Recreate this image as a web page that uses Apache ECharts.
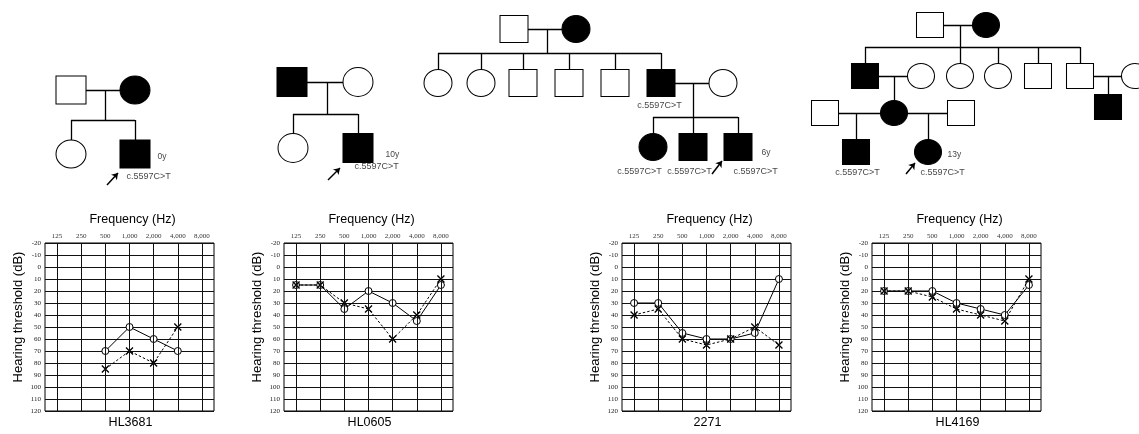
<!DOCTYPE html>
<html><head><meta charset="utf-8">
<script src="https://cdn.jsdelivr.net/npm/echarts@6/dist/echarts.min.js"></script>
<style>html,body{margin:0;padding:0;background:#fff}#c{width:1139px;height:434px}</style>
</head><body><div id="c"></div>
<script>
// ---------- audiogram data ----------
const freqLabels = ['125','250','500','1,000','2,000','4,000','8,000'];
const audiogramIds = ['HL3681','HL0605','2271','HL4169'];
const hl3681Right = [null,null,70,50,60,70,null];
const hl3681Left  = [null,null,85,70,80,50,null];
const hl0605Right = [15,15,35,20,30,45,15];
const hl0605Left  = [15,15,30,35,60,40,10];
const p2271Right  = [30,30,55,60,60,55,10];
const p2271Left   = [40,35,60,65,60,50,65];
const hl4169Right = [20,20,20,30,35,40,15];
const hl4169Left  = [20,20,25,35,40,45,10];
const rightEars = [hl3681Right, hl0605Right, p2271Right, hl4169Right];
const leftEars  = [hl3681Left, hl0605Left, p2271Left, hl4169Left];

// ---------- pedigree data: [x, y, sex, affected] ----------
const ped1People = [[71,90,'m',0],[135,90,'f',1],[71,154,'f',0],[135,154,'m',1]];
const ped1Links = [[[71,90],[135,90]],[[105,90],[105,120]],[[71,120],[135,120]],[[71,120],[71,154]],[[135,120],[135,154]]];
const ped2People = [[292,82,'m',1],[358,82,'f',0],[293,148,'f',0],[358,148,'m',1]];
const ped2Links = [[[292,82],[358,82]],[[327,82],[327,114]],[[293,114],[358,114]],[[293,114],[293,148]],[[358,114],[358,148]]];
const ped3People = [[514,29,'m',0],[576,29,'f',1],
  [438,83,'f',0],[481,83,'f',0],[523,83,'m',0],[569,83,'m',0],[615,83,'m',0],[661,83,'m',1],[723,83,'f',0],
  [653,147,'f',1],[693,147,'m',1],[738,147,'m',1]];
const ped3Links = [[[514,29],[576,29]],[[547,29],[547,53]],[[438,53],[661,53]],
  [[438,53],[438,83]],[[481,53],[481,83]],[[523,53],[523,83]],[[569,53],[569,83]],[[615,53],[615,83]],[[661,53],[661,83]],
  [[661,83],[723,83]],[[693,83],[693,117]],[[653,117],[738,117]],
  [[653,117],[653,147]],[[693,117],[693,147]],[[738,117],[738,147]]];
const ped4People = [[930,25,'m',0],[986,25,'f',1],
  [865,76,'m',1],[921,76,'f',0],[960,76,'f',0],[998,76,'f',0],[1038,76,'m',0],[1080,76,'m',0],[1135,76,'f',0],
  [825,113,'m',0],[894,113,'f',1],[961,113,'m',0],[1108,107,'m',1],
  [856,152,'m',1],[928,152,'f',1]];
const ped4Links = [[[930,25],[986,25]],[[960,25],[960,47]],[[865,47],[1080,47]],
  [[865,47],[865,76]],[[960,47],[960,76]],[[998,47],[998,76]],[[1038,47],[1038,76]],[[1080,47],[1080,76]],
  [[865,76],[921,76]],[[894,76],[894,113]],[[1080,76],[1135,76]],[[1108,76],[1108,107]],
  [[825,113],[894,113]],[[894,113],[961,113]],[[856,113],[856,152]],[[928,113],[928,152]]];
// texts: [x, y, text, align]
const pedTexts = [[158,157,'0y','left'],[127,177,'c.5597C>T','left'],
  [386,155,'10y','left'],[355,167,'c.5597C>T','left'],
  [660,106,'c.5597C>T','center'],[640,172,'c.5597C>T','center'],[690,172,'c.5597C>T','center'],[734,172,'c.5597C>T','left'],[762,153,'6y','left'],
  [858,173,'c.5597C>T','center'],[921,173,'c.5597C>T','left'],[948,155,'13y','left']];
const pedArrows = [[[107,185],[118,173]],[[328,180],[340,168]],[[712,174],[722,161]],[[906,174],[915,163]]];

// ---------- layout ----------
const plotLefts = [45,284,622,872];
const plotTop = 243, plotW = 169, plotH = 168;
const pedSizes = [[30,28],[30,29],[28,27],[27,25]];

const grids = [], xAxes = [], yAxes = [], series = [], graphics = [];
const serif = 'Liberation Serif', sans = 'Liberation Sans';
plotLefts.forEach((l,i)=>{
  grids.push({left:l, top:plotTop, width:plotW, height:plotH, show:true, borderColor:'#000', borderWidth:1, backgroundColor:'transparent'});
  xAxes.push({gridIndex:i, type:'category', data:freqLabels, position:'top', boundaryGap:true,
    axisLine:{show:false}, axisTick:{show:false}, splitLine:{show:false},
    axisLabel:{fontFamily:serif, fontSize:7, color:'#333', margin:3, interval:0}});
  yAxes.push({gridIndex:i, type:'value', inverse:true, min:-20, max:120, interval:10,
    axisLine:{show:false}, axisTick:{show:false},
    splitLine:{show:true, lineStyle:{color:'#111', width:1}},
    axisLabel:{fontFamily:serif, fontSize:7, color:'#222', margin:4}});
  // vertical frequency lines
  series.push({type:'line', xAxisIndex:i, yAxisIndex:i, data:[], silent:true, z:1,
    markLine:{silent:true, symbol:'none', animation:false, label:{show:false},
      lineStyle:{color:'#111', width:1, type:'solid'},
      data:freqLabels.map(f=>({xAxis:f}))}});
  series.push({type:'line', xAxisIndex:i, yAxisIndex:i, data:rightEars[i], z:3, animation:false,
    symbol:'circle', symbolSize:7,
    itemStyle:{color:'#fff', borderColor:'#000', borderWidth:1, opacity:1},
    lineStyle:{color:'#000', width:1, type:'solid'}});
  series.push({type:'line', xAxisIndex:i, yAxisIndex:i, data:leftEars[i], z:4, animation:false,
    symbol:'path://M0,0L10,10M10,0L0,10', symbolSize:7,
    itemStyle:{color:'#000', borderColor:'#000', borderWidth:1.3, opacity:1},
    lineStyle:{color:'#000', width:1, type:[2.5,2]}});
  const cx = l + plotW/2;
  graphics.push({type:'text', x:cx+3, y:220, style:{text:'Frequency (Hz)', font:'12.5px '+sans, fill:'#000', textAlign:'center', textVerticalAlign:'middle'}});
  graphics.push({type:'text', x:cx+1, y:423, style:{text:audiogramIds[i], font:'12.5px '+sans, fill:'#000', textAlign:'center', textVerticalAlign:'middle'}});
  graphics.push({type:'text', x:l-27, y:317, rotation:Math.PI/2, style:{text:'Hearing threshold (dB)', font:'13px '+sans, fill:'#000', textAlign:'center', textVerticalAlign:'middle'}});
});

// pedigree coordinate system (full canvas)
grids.push({left:0, top:0, width:1139, height:434, show:false});
xAxes.push({gridIndex:4, type:'value', min:0, max:1139, show:false});
yAxes.push({gridIndex:4, type:'value', min:0, max:434, inverse:true, show:false});
const pedList = [[ped1People,ped1Links],[ped2People,ped2Links],[ped3People,ped3Links],[ped4People,ped4Links]];
pedList.forEach(([people,links],k)=>{
  series.push({type:'lines', coordinateSystem:'cartesian2d', xAxisIndex:4, yAxisIndex:4, z:5, silent:true, animation:false,
    lineStyle:{color:'#000', width:1.3, opacity:1},
    data:links.map(c=>({coords:c}))});
  series.push({type:'scatter', xAxisIndex:4, yAxisIndex:4, z:6, silent:true, animation:false,
    data:people.map(p=>({value:[p[0],p[1]], symbol:p[2]==='m'?'rect':'circle', symbolSize:pedSizes[k],
      itemStyle:{color:p[3]?'#000':'#fff', borderColor:'#000', borderWidth:1, opacity:1}}))});
});
series.push({type:'lines', coordinateSystem:'cartesian2d', xAxisIndex:4, yAxisIndex:4, z:7, silent:true, animation:false,
  symbol:['none','arrow'], symbolSize:6,
  lineStyle:{color:'#000', width:1.5, opacity:1},
  data:pedArrows.map(c=>({coords:c}))});
series.push({type:'scatter', xAxisIndex:4, yAxisIndex:4, z:8, silent:true, animation:false, symbolSize:1,
  itemStyle:{color:'transparent'},
  data:pedTexts.map(t=>({value:[t[0],t[1]], name:t[2],
    label:{show:true, position:[0,0], align:t[3], verticalAlign:'middle', formatter:t[2],
      fontFamily:sans, fontSize:t[2].indexOf('y')>0&&t[2].length<4?8.5:9, color:'#111'}}))});

const chart = echarts.init(document.getElementById('c'), null, {renderer:'canvas'});
chart.setOption({animation:false, backgroundColor:'#fff', grid:grids, xAxis:xAxes, yAxis:yAxes, series:series, graphic:graphics});
</script></body></html>
